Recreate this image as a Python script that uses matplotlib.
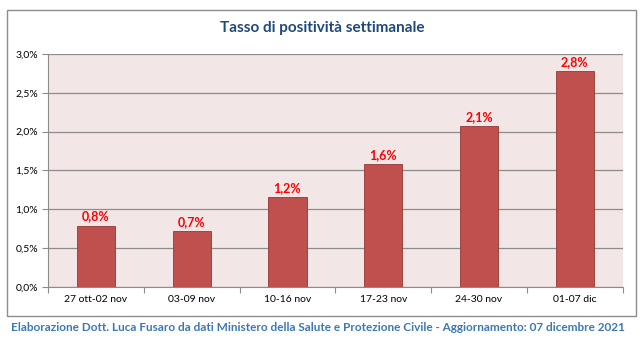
import numpy as np
import matplotlib.pyplot as plt
from matplotlib.patches import Rectangle
from matplotlib.ticker import FuncFormatter

plt.rcParams['font.family'] = ['Lato', 'DejaVu Sans']

categories = ['27 ott-02 nov', '03-09 nov', '10-16 nov', '17-23 nov', '24-30 nov', '01-07 dic']
positivity = [0.79, 0.72, 1.16, 1.58, 2.07, 2.78]
value_labels = ['0,8%', '0,7%', '1,2%', '1,6%', '2,1%', '2,8%']
y_ticks = [0.0, 0.5, 1.0, 1.5, 2.0, 2.5, 3.0]

title = 'Tasso di positività settimanale'
footnote = ('Elaborazione Dott. Luca Fusaro da dati Ministero della Salute e Protezione Civile'
            ' - Aggiornamento: 07 dicembre 2021')

fig = plt.figure(figsize=(6.44, 3.5), dpi=100)
fig.patch.set_facecolor('white')

# outer frame of the chart
fig.patches.append(Rectangle((0.011, 0.097), 0.977, 0.874, transform=fig.transFigure,
                             fill=False, edgecolor='#8c8c8c', linewidth=1.0))

ax = fig.add_axes([0.0745, 0.18, 0.8925, 0.666])
ax.set_facecolor('#f3e6e6')

x = np.arange(len(categories))
bars = ax.bar(x, positivity, width=0.4, color='#c0504d', edgecolor='#953735',
              linewidth=0.6, zorder=3)

for xi, v, lab in zip(x, positivity, value_labels):
    ax.text(xi, v + 0.04, lab, ha='center', va='bottom', color='#ff0000',
            fontsize=9, fontweight='bold', zorder=4)

ax.set_xlim(-0.5, len(categories) - 0.5)
ax.set_ylim(0, 3.0)
ax.set_yticks(y_ticks)
ax.yaxis.set_major_formatter(FuncFormatter(lambda v, p: f'{v:.1f}%'.replace('.', ',')))
ax.yaxis.grid(True, color='#8c8c8c', linewidth=0.9, zorder=1)

# category ticks sit on the boundaries, labels in the middle
ax.set_xticks(np.arange(len(categories) + 1) - 0.5)
ax.set_xticklabels([])
ax.set_xticks(x, minor=True)
ax.set_xticklabels(categories, minor=True)
ax.tick_params(axis='x', which='minor', length=0, labelsize=7.5, pad=6)
ax.tick_params(axis='x', which='major', length=4, color='#8c8c8c')
ax.tick_params(axis='y', length=4, color='#8c8c8c', labelsize=7.5, pad=3)

for side in ['top', 'right']:
    ax.spines[side].set_visible(False)
for side in ['left', 'bottom']:
    ax.spines[side].set_color('#8c8c8c')

fig.text(0.5, 0.92, title, ha='center', va='center', fontsize=11,
         fontweight='bold', color='#1f497d')
fig.text(0.493, 0.065, footnote, ha='center', va='center', fontsize=8.5,
         fontweight='bold', color='#3b78b5')

fig.savefig('out.png', dpi=100)
